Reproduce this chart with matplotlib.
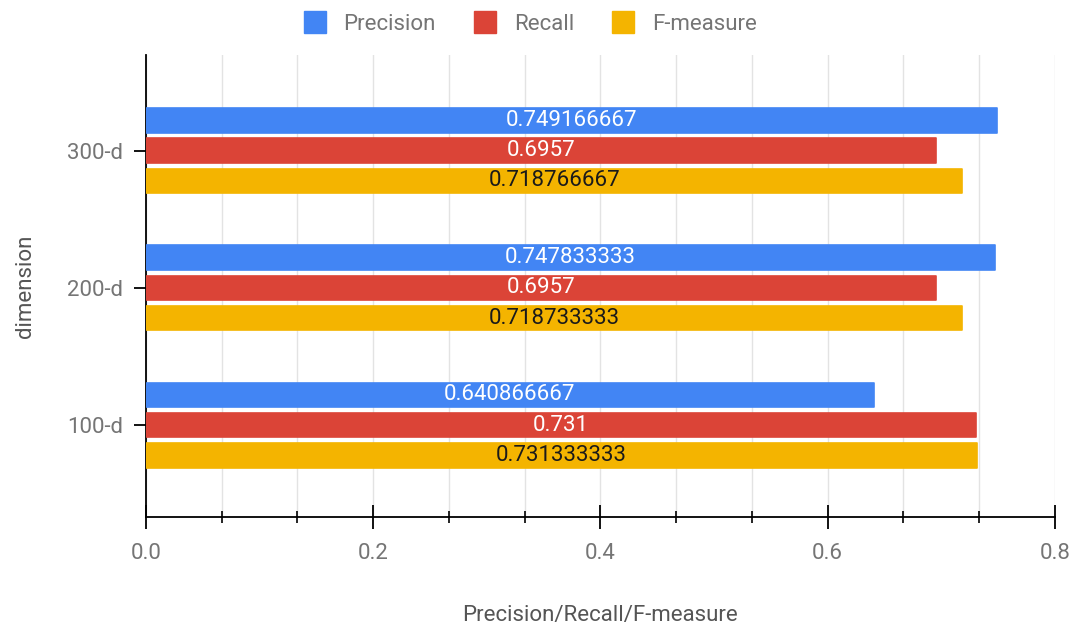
import numpy as np
import matplotlib.pyplot as plt
from matplotlib.lines import Line2D
from matplotlib.ticker import MultipleLocator

plt.rcParams["font.family"] = ["Roboto", "DejaVu Sans"]

dimensions = ["100-d", "200-d", "300-d"]
series_names = ["Precision", "Recall", "F-measure"]
precision = [0.640866667, 0.747833333, 0.749166667]
recall = [0.731, 0.6957, 0.6957]
f_measure = [0.731333333, 0.718733333, 0.718766667]

colors = ["#4285F4", "#DB4437", "#F4B400"]
text_colors = ["white", "white", "#1a1a1a"]
gray = "#757575"
fs = 16

fig = plt.figure(figsize=(10.73, 6.29), dpi=100)
ax = fig.add_axes([0.136, 0.178, 0.847, 0.735])

y = np.arange(len(dimensions))
bar_h = 0.18
step = 0.22
for i, (vals, c, tc) in enumerate(zip([precision, recall, f_measure], colors, text_colors)):
    ypos = y + (1 - i) * step
    ax.barh(ypos, vals, height=bar_h, color=c, edgecolor=c, linewidth=1.2,
            joinstyle="round", zorder=3)
    for yp, v in zip(ypos, vals):
        ax.text(v / 2, yp, str(v), ha="center", va="center", color=tc,
                fontsize=fs, zorder=4)

ax.set_xlim(0, 0.8)
ax.set_ylim(-0.67, 2.70)
ax.set_yticks(y)
ax.set_yticklabels(dimensions)
ax.xaxis.set_major_locator(MultipleLocator(0.2))
ax.xaxis.set_minor_locator(MultipleLocator(0.2 / 3))
ax.set_xticklabels([f"{t:.1f}" for t in ax.get_xticks()])

ax.grid(True, axis="x", which="both", color="#e3e3e3", linewidth=1, zorder=0)
for s in ["top", "right"]:
    ax.spines[s].set_visible(False)
for s in ["left", "bottom"]:
    ax.spines[s].set_color("black")
    ax.spines[s].set_linewidth(1.3)

ax.tick_params(axis="x", which="major", direction="inout", length=17, width=1.3,
               colors="black", labelcolor=gray, labelsize=fs, pad=10)
ax.tick_params(axis="x", which="minor", direction="inout", length=8, width=1.2, colors="black")
ax.tick_params(axis="y", direction="inout", length=17, width=1.3,
               colors="black", labelcolor=gray, labelsize=fs, pad=8)

ax.set_xlabel("Precision/Recall/F-measure", color="#555555", fontsize=fs, labelpad=30)
ax.set_ylabel("dimension", color="#555555", fontsize=fs, labelpad=22)

handles = [Line2D([], [], marker="s", linestyle="none", markersize=16,
                  markerfacecolor=c, markeredgecolor=c) for c in colors]
leg = fig.legend(handles, series_names, loc="upper center", bbox_to_anchor=(0.493, 1.01),
                 ncol=3, frameon=False, fontsize=fs, handlelength=1.2,
                 handletextpad=0.7, columnspacing=1.6)
for t in leg.get_texts():
    t.set_color(gray)

fig.savefig("out.png", dpi=100)
